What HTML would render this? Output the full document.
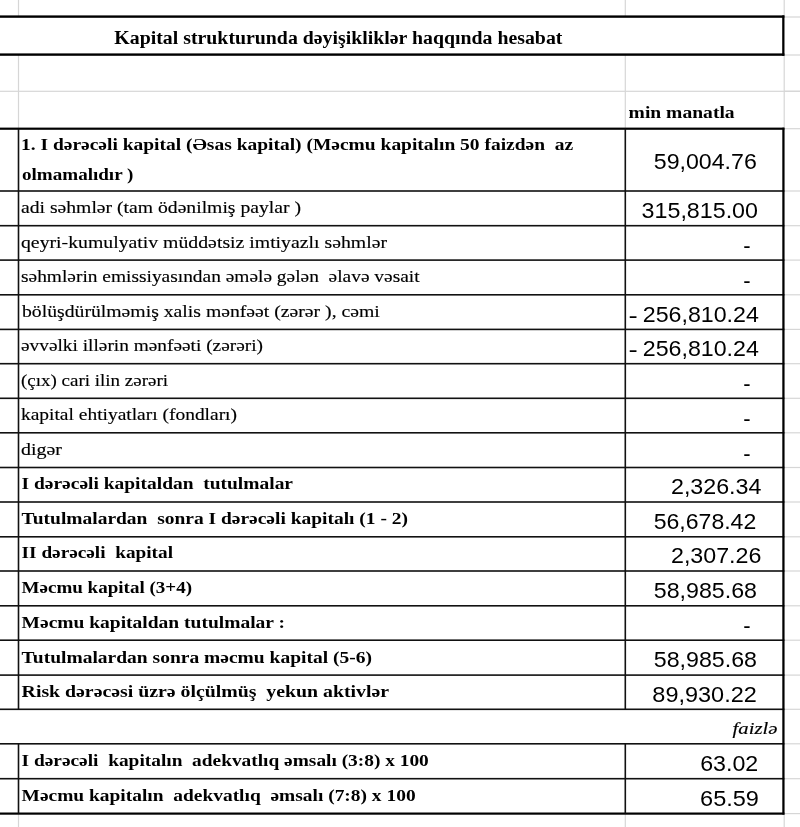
<!DOCTYPE html>
<html><head><meta charset="utf-8"><title>Kapital strukturunda dəyişikliklər haqqında hesabat</title>
<style>
html,body{margin:0;padding:0;background:#fff;}
body{width:800px;height:827px;overflow:hidden;}
svg{display:block;}
text{fill:#000;white-space:pre;}
</style></head><body>
<svg width="800" height="827" viewBox="0 0 800 827" xml:space="preserve">
<rect width="800" height="827" fill="#fff"/>
<rect x="17.90" y="0.00" width="1.20" height="16.00" fill="#d6d6d6"/>
<rect x="17.90" y="55.00" width="1.20" height="74.00" fill="#d6d6d6"/>
<rect x="17.90" y="813.00" width="1.20" height="14.00" fill="#d6d6d6"/>
<rect x="624.70" y="0.00" width="1.20" height="16.00" fill="#d6d6d6"/>
<rect x="624.70" y="55.00" width="1.20" height="74.00" fill="#d6d6d6"/>
<rect x="624.70" y="813.00" width="1.20" height="14.00" fill="#d6d6d6"/>
<rect x="783.60" y="0.00" width="1.20" height="827.00" fill="#d6d6d6"/>
<rect x="784.00" y="16.40" width="16.00" height="1.20" fill="#d6d6d6"/>
<rect x="784.00" y="54.40" width="16.00" height="1.20" fill="#d6d6d6"/>
<rect x="784.00" y="90.70" width="16.00" height="1.20" fill="#d6d6d6"/>
<rect x="784.00" y="128.10" width="16.00" height="1.20" fill="#d6d6d6"/>
<rect x="784.00" y="190.40" width="16.00" height="1.20" fill="#d6d6d6"/>
<rect x="784.00" y="225.10" width="16.00" height="1.20" fill="#d6d6d6"/>
<rect x="784.00" y="259.50" width="16.00" height="1.20" fill="#d6d6d6"/>
<rect x="784.00" y="294.20" width="16.00" height="1.20" fill="#d6d6d6"/>
<rect x="784.00" y="328.80" width="16.00" height="1.20" fill="#d6d6d6"/>
<rect x="784.00" y="363.10" width="16.00" height="1.20" fill="#d6d6d6"/>
<rect x="784.00" y="397.70" width="16.00" height="1.20" fill="#d6d6d6"/>
<rect x="784.00" y="432.20" width="16.00" height="1.20" fill="#d6d6d6"/>
<rect x="784.00" y="466.90" width="16.00" height="1.20" fill="#d6d6d6"/>
<rect x="784.00" y="501.40" width="16.00" height="1.20" fill="#d6d6d6"/>
<rect x="784.00" y="536.20" width="16.00" height="1.20" fill="#d6d6d6"/>
<rect x="784.00" y="570.40" width="16.00" height="1.20" fill="#d6d6d6"/>
<rect x="784.00" y="605.20" width="16.00" height="1.20" fill="#d6d6d6"/>
<rect x="784.00" y="639.60" width="16.00" height="1.20" fill="#d6d6d6"/>
<rect x="784.00" y="674.50" width="16.00" height="1.20" fill="#d6d6d6"/>
<rect x="784.00" y="708.70" width="16.00" height="1.20" fill="#d6d6d6"/>
<rect x="784.00" y="743.20" width="16.00" height="1.20" fill="#d6d6d6"/>
<rect x="784.00" y="778.10" width="16.00" height="1.20" fill="#d6d6d6"/>
<rect x="784.00" y="813.00" width="16.00" height="1.20" fill="#d6d6d6"/>
<rect x="0.00" y="90.70" width="800.00" height="1.20" fill="#d6d6d6"/>
<rect x="0.00" y="15.40" width="784.40" height="2.40" fill="#000"/>
<rect x="0.00" y="53.40" width="784.40" height="2.40" fill="#000"/>
<rect x="782.20" y="15.40" width="2.20" height="40.40" fill="#000"/>
<rect x="0.00" y="127.60" width="784.40" height="2.20" fill="#000"/>
<rect x="0.00" y="190.20" width="784.40" height="1.60" fill="#111"/>
<rect x="0.00" y="224.90" width="784.40" height="1.60" fill="#111"/>
<rect x="0.00" y="259.30" width="784.40" height="1.60" fill="#111"/>
<rect x="0.00" y="294.00" width="784.40" height="1.60" fill="#111"/>
<rect x="0.00" y="328.60" width="784.40" height="1.60" fill="#111"/>
<rect x="0.00" y="362.90" width="784.40" height="1.60" fill="#111"/>
<rect x="0.00" y="397.50" width="784.40" height="1.60" fill="#111"/>
<rect x="0.00" y="432.00" width="784.40" height="1.60" fill="#111"/>
<rect x="0.00" y="466.70" width="784.40" height="1.60" fill="#111"/>
<rect x="0.00" y="501.20" width="784.40" height="1.60" fill="#111"/>
<rect x="0.00" y="536.00" width="784.40" height="1.60" fill="#111"/>
<rect x="0.00" y="570.20" width="784.40" height="1.60" fill="#111"/>
<rect x="0.00" y="605.00" width="784.40" height="1.60" fill="#111"/>
<rect x="0.00" y="639.40" width="784.40" height="1.60" fill="#111"/>
<rect x="0.00" y="674.30" width="784.40" height="1.60" fill="#111"/>
<rect x="0.00" y="708.50" width="784.40" height="1.60" fill="#111"/>
<rect x="0.00" y="743.00" width="784.40" height="1.60" fill="#111"/>
<rect x="0.00" y="777.90" width="784.40" height="1.60" fill="#111"/>
<rect x="0.00" y="812.50" width="784.40" height="2.20" fill="#000"/>
<rect x="17.70" y="128.70" width="1.60" height="580.60" fill="#111"/>
<rect x="17.70" y="743.80" width="1.60" height="69.80" fill="#111"/>
<rect x="624.50" y="128.70" width="1.60" height="580.60" fill="#111"/>
<rect x="624.50" y="743.80" width="1.60" height="69.80" fill="#111"/>
<rect x="782.30" y="127.70" width="2.20" height="686.90" fill="#000"/>
<text x="114.39" y="43.70" font-family="'Liberation Serif', serif" font-size="18.5" font-weight="bold" font-style="normal" textLength="448.02" lengthAdjust="spacingAndGlyphs">Kapital strukturunda dəyişikliklər haqqında hesabat</text>
<text x="628.58" y="117.50" font-family="'Liberation Serif', serif" font-size="17" font-weight="bold" font-style="normal" textLength="106.05" lengthAdjust="spacingAndGlyphs">min manatla</text>
<text x="20.99" y="150.00" font-family="'Liberation Serif', serif" font-size="17" font-weight="bold" font-style="normal" textLength="552.22" lengthAdjust="spacingAndGlyphs">1. I dərəcəli kapital (Əsas kapital) (Məcmu kapitalın 50 faizdən  az</text>
<text x="21.97" y="180.20" font-family="'Liberation Serif', serif" font-size="17" font-weight="bold" font-style="normal" textLength="111.46" lengthAdjust="spacingAndGlyphs">olmamalıdır )</text>
<text x="653.75" y="168.90" font-family="'Liberation Sans', sans-serif" font-size="22" font-weight="normal" font-style="normal" textLength="103.07" lengthAdjust="spacingAndGlyphs">59,004.76</text>
<text x="20.99" y="213.10" font-family="'Liberation Serif', serif" font-size="17" font-weight="normal" font-style="normal" textLength="280.02" lengthAdjust="spacingAndGlyphs" stroke="#000" stroke-width="0.15">adi səhmlər (tam ödənilmiş paylar )</text>
<text x="20.99" y="247.50" font-family="'Liberation Serif', serif" font-size="17" font-weight="normal" font-style="normal" textLength="366.02" lengthAdjust="spacingAndGlyphs" stroke="#000" stroke-width="0.15">qeyri-kumulyativ müddətsiz imtiyazlı səhmlər</text>
<text x="20.99" y="282.20" font-family="'Liberation Serif', serif" font-size="17" font-weight="normal" font-style="normal" textLength="398.61" lengthAdjust="spacingAndGlyphs" stroke="#000" stroke-width="0.15">səhmlərin emissiyasından əmələ gələn  əlavə vəsait</text>
<text x="22.00" y="316.80" font-family="'Liberation Serif', serif" font-size="17" font-weight="normal" font-style="normal" textLength="357.80" lengthAdjust="spacingAndGlyphs" stroke="#000" stroke-width="0.15">bölüşdürülməmiş xalis mənfəət (zərər ), cəmi</text>
<text x="20.99" y="351.10" font-family="'Liberation Serif', serif" font-size="17" font-weight="normal" font-style="normal" textLength="242.03" lengthAdjust="spacingAndGlyphs" stroke="#000" stroke-width="0.15">əvvəlki illərin mənfəəti (zərəri)</text>
<text x="20.99" y="385.70" font-family="'Liberation Serif', serif" font-size="17" font-weight="normal" font-style="normal" textLength="147.02" lengthAdjust="spacingAndGlyphs" stroke="#000" stroke-width="0.15">(çıx) cari ilin zərəri</text>
<text x="20.99" y="420.20" font-family="'Liberation Serif', serif" font-size="17" font-weight="normal" font-style="normal" textLength="216.02" lengthAdjust="spacingAndGlyphs" stroke="#000" stroke-width="0.15">kapital ehtiyatları (fondları)</text>
<text x="20.95" y="454.90" font-family="'Liberation Serif', serif" font-size="17" font-weight="normal" font-style="normal" textLength="41.05" lengthAdjust="spacingAndGlyphs" stroke="#000" stroke-width="0.15">digər</text>
<text x="21.58" y="489.40" font-family="'Liberation Serif', serif" font-size="17" font-weight="bold" font-style="normal" textLength="271.43" lengthAdjust="spacingAndGlyphs">I dərəcəli kapitaldan  tutulmalar</text>
<text x="21.59" y="524.20" font-family="'Liberation Serif', serif" font-size="17" font-weight="bold" font-style="normal" textLength="386.42" lengthAdjust="spacingAndGlyphs">Tutulmalardan  sonra I dərəcəli kapitalı (1 - 2)</text>
<text x="21.58" y="558.40" font-family="'Liberation Serif', serif" font-size="17" font-weight="bold" font-style="normal" textLength="151.44" lengthAdjust="spacingAndGlyphs">II dərəcəli  kapital</text>
<text x="21.58" y="593.20" font-family="'Liberation Serif', serif" font-size="17" font-weight="bold" font-style="normal" textLength="170.43" lengthAdjust="spacingAndGlyphs">Məcmu kapital (3+4)</text>
<text x="21.58" y="627.60" font-family="'Liberation Serif', serif" font-size="17" font-weight="bold" font-style="normal" textLength="263.44" lengthAdjust="spacingAndGlyphs">Məcmu kapitaldan tutulmalar :</text>
<text x="21.59" y="662.50" font-family="'Liberation Serif', serif" font-size="17" font-weight="bold" font-style="normal" textLength="350.41" lengthAdjust="spacingAndGlyphs">Tutulmalardan sonra məcmu kapital (5-6)</text>
<text x="21.59" y="696.70" font-family="'Liberation Serif', serif" font-size="17" font-weight="bold" font-style="normal" textLength="367.41" lengthAdjust="spacingAndGlyphs">Risk dərəcəsi üzrə ölçülmüş  yekun aktivlər</text>
<text x="21.60" y="766.10" font-family="'Liberation Serif', serif" font-size="17" font-weight="bold" font-style="normal" textLength="407.21" lengthAdjust="spacingAndGlyphs">I dərəcəli  kapitalın  adekvatlıq əmsalı (3:8) x 100</text>
<text x="21.59" y="801.00" font-family="'Liberation Serif', serif" font-size="17" font-weight="bold" font-style="normal" textLength="394.02" lengthAdjust="spacingAndGlyphs">Məcmu kapitalın  adekvatlıq  əmsalı (7:8) x 100</text>
<text x="641.57" y="218.00" font-family="'Liberation Sans', sans-serif" font-size="22" font-weight="normal" font-style="normal" textLength="116.44" lengthAdjust="spacingAndGlyphs">315,815.00</text>
<text x="743.22" y="253.20" font-family="'Liberation Sans', sans-serif" font-size="22" font-weight="normal" font-style="normal" textLength="7.35" lengthAdjust="spacingAndGlyphs">-</text>
<text x="743.22" y="287.90" font-family="'Liberation Sans', sans-serif" font-size="22" font-weight="normal" font-style="normal" textLength="7.35" lengthAdjust="spacingAndGlyphs">-</text>
<text x="628.60" y="322.50" font-family="'Liberation Sans', sans-serif" font-size="22" font-weight="normal" font-style="normal" textLength="9.22" lengthAdjust="spacingAndGlyphs">-</text>
<text x="642.74" y="321.70" font-family="'Liberation Sans', sans-serif" font-size="22" font-weight="normal" font-style="normal" textLength="116.09" lengthAdjust="spacingAndGlyphs">256,810.24</text>
<text x="628.60" y="356.80" font-family="'Liberation Sans', sans-serif" font-size="22" font-weight="normal" font-style="normal" textLength="9.22" lengthAdjust="spacingAndGlyphs">-</text>
<text x="642.74" y="356.00" font-family="'Liberation Sans', sans-serif" font-size="22" font-weight="normal" font-style="normal" textLength="116.09" lengthAdjust="spacingAndGlyphs">256,810.24</text>
<text x="743.22" y="391.40" font-family="'Liberation Sans', sans-serif" font-size="22" font-weight="normal" font-style="normal" textLength="7.35" lengthAdjust="spacingAndGlyphs">-</text>
<text x="743.22" y="425.90" font-family="'Liberation Sans', sans-serif" font-size="22" font-weight="normal" font-style="normal" textLength="7.35" lengthAdjust="spacingAndGlyphs">-</text>
<text x="743.22" y="460.60" font-family="'Liberation Sans', sans-serif" font-size="22" font-weight="normal" font-style="normal" textLength="7.35" lengthAdjust="spacingAndGlyphs">-</text>
<text x="670.98" y="494.30" font-family="'Liberation Sans', sans-serif" font-size="22" font-weight="normal" font-style="normal" textLength="90.46" lengthAdjust="spacingAndGlyphs">2,326.34</text>
<text x="653.73" y="529.10" font-family="'Liberation Sans', sans-serif" font-size="22" font-weight="normal" font-style="normal" textLength="102.52" lengthAdjust="spacingAndGlyphs">56,678.42</text>
<text x="670.98" y="563.30" font-family="'Liberation Sans', sans-serif" font-size="22" font-weight="normal" font-style="normal" textLength="90.46" lengthAdjust="spacingAndGlyphs">2,307.26</text>
<text x="653.75" y="598.10" font-family="'Liberation Sans', sans-serif" font-size="22" font-weight="normal" font-style="normal" textLength="103.27" lengthAdjust="spacingAndGlyphs">58,985.68</text>
<text x="743.22" y="633.30" font-family="'Liberation Sans', sans-serif" font-size="22" font-weight="normal" font-style="normal" textLength="7.35" lengthAdjust="spacingAndGlyphs">-</text>
<text x="653.75" y="667.40" font-family="'Liberation Sans', sans-serif" font-size="22" font-weight="normal" font-style="normal" textLength="103.27" lengthAdjust="spacingAndGlyphs">58,985.68</text>
<text x="652.34" y="701.60" font-family="'Liberation Sans', sans-serif" font-size="22" font-weight="normal" font-style="normal" textLength="104.51" lengthAdjust="spacingAndGlyphs">89,930.22</text>
<text x="700.15" y="771.00" font-family="'Liberation Sans', sans-serif" font-size="22" font-weight="normal" font-style="normal" textLength="58.07" lengthAdjust="spacingAndGlyphs">63.02</text>
<text x="700.07" y="805.90" font-family="'Liberation Sans', sans-serif" font-size="22" font-weight="normal" font-style="normal" textLength="58.87" lengthAdjust="spacingAndGlyphs">65.59</text>
<text x="732.58" y="734.00" font-family="'Liberation Serif', serif" font-size="17" font-weight="normal" font-style="italic" textLength="44.90" lengthAdjust="spacingAndGlyphs" stroke="#000" stroke-width="0.15">faizlə</text>
</svg>
</body></html>
